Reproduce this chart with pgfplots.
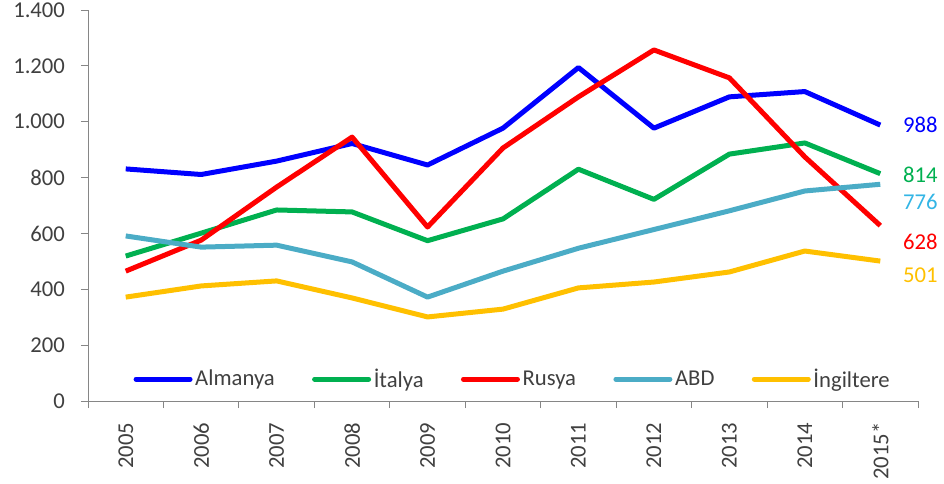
\documentclass[border=0pt]{standalone}
\usepackage{fontspec}
\setmainfont{Carlito}
\usepackage{pgfplots}
\usepackage{pgfplotstable}
\pgfplotsset{compat=1.18}
\definecolor{cAlm}{RGB}{0,0,255}
\definecolor{cIta}{RGB}{0,176,80}
\definecolor{cRus}{RGB}{255,0,0}
\definecolor{cAbd}{RGB}{75,172,198}
\definecolor{cIng}{RGB}{255,192,0}
\definecolor{cAbdTxt}{RGB}{51,181,229}
\definecolor{txt}{RGB}{64,64,64}
\definecolor{axc}{RGB}{134,134,134}

\pgfplotstableread{
x Alm Ita Rus Abd Ing
0 831 519 465 591 372
1 811 601 576 551 412
2 859 684 766 558 430
3 922 677 945 498 369
4 845 574 623 372 301
5 977 652 906 465 329
6 1194 830 1089 547 405
7 977 722 1257 614 426
8 1089 884 1157 681 462
9 1108 924 874 752 537
10 988 814 628 776 501
}\datatable

\begin{document}
\begin{tikzpicture}
\path[use as bounding box] (-66pt,-61.5pt) rectangle (642pt,300.75pt);
\begin{axis}[
  at={(0pt,0pt)}, anchor=south west,
  scale only axis, width=622.5pt, height=293.25pt,
  xmin=-0.5, xmax=10.5, ymin=0, ymax=1400,
  axis x line*=bottom, axis y line*=left,
  axis line style={axc, line width=0.75pt, -},
  xtick={0,...,10},
  xticklabels={2005,2006,2007,2008,2009,2010,2011,2012,2013,2014,2015*},
  major x tick style={draw=none},
  minor xtick={-0.5,0.5,...,10.5},
  minor tick length=5.25pt,
  ytick={0,200,...,1400},
  tick align=outside, major tick length=5.25pt,
  tick style={axc, line width=0.75pt},
  every tick label/.append style={font=\fontsize{17}{20}\selectfont, text=txt},
  x tick label style={rotate=90, anchor=east},
  xticklabel shift=7.5pt,
  yticklabel shift=8.5pt,
  /pgf/number format/.cd, 1000 sep={.}, assume math mode=true,
  /pgfplots/.cd,
  legend style={at={(axis description cs:0.512,0.056)}, anchor=center,
    draw=none, fill=none, legend columns=5,
    font=\fontsize{17}{20}\selectfont, text=txt,
    /tikz/every even column/.append style={column sep=26pt}},
  legend image code/.code={\draw[#1, line cap=round] (0pt,0pt) -- (40.5pt,0pt);},
  every axis plot/.append style={line width=3.75pt, line join=round},
  clip=false,
]
\addplot[cAlm] table[x=x,y=Alm]{\datatable};
\addlegendentry{Almanya}
\addplot[cIta] table[x=x,y=Ita]{\datatable};
\addlegendentry{İtalya}
\addplot[cRus] table[x=x,y=Rus]{\datatable};
\addlegendentry{Rusya}
\addplot[cAbd] table[x=x,y=Abd]{\datatable};
\addlegendentry{ABD}
\addplot[cIng] table[x=x,y=Ing]{\datatable};
\addlegendentry{İngiltere}

\node[anchor=west, inner sep=0pt, xshift=17pt, text=cAlm, font=\fontsize{17}{20}\selectfont] at (axis cs:10,988) {988};
\node[anchor=west, inner sep=0pt, xshift=17pt, text=cIta, font=\fontsize{17}{20}\selectfont] at (axis cs:10,808) {814};
\node[anchor=west, inner sep=0pt, xshift=17pt, text=cAbdTxt, font=\fontsize{17}{20}\selectfont] at (axis cs:10,712) {776};
\node[anchor=west, inner sep=0pt, xshift=17pt, text=cRus, font=\fontsize{17}{20}\selectfont] at (axis cs:10,569) {628};
\node[anchor=west, inner sep=0pt, xshift=17pt, text=cIng, font=\fontsize{17}{20}\selectfont] at (axis cs:10,451) {501};
\end{axis}
\end{tikzpicture}
\end{document}
